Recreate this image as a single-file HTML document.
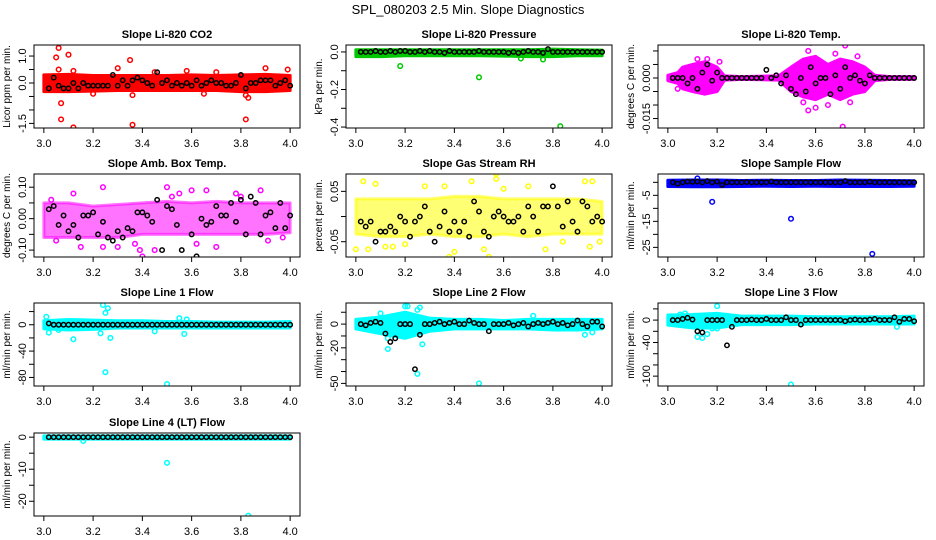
<!DOCTYPE html>
<html><head><meta charset="utf-8"><style>
html,body{margin:0;padding:0;background:#fff}
svg{display:block}
text{font-family:"Liberation Sans",Arial,sans-serif}
</style></head><body>
<svg id="chart" width="936" height="540" viewBox="0 0 936 540">
<text x="468" y="14" text-anchor="middle" font-size="13">SPL_080203  2.5 Min. Slope Diagnostics</text>
</svg>
<script>
// shared x grid for black (summary) points
const times = [3.02,3.04,3.06,3.08,3.10,3.12,3.14,3.16,3.18,3.20,3.22,3.24,3.26,3.28,3.30,3.32,3.34,3.36,3.38,3.40,3.42,3.44,3.46,3.48,3.50,3.52,3.54,3.56,3.58,3.60,3.62,3.64,3.66,3.68,3.70,3.72,3.74,3.76,3.78,3.80,3.82,3.84,3.86,3.88,3.90,3.92,3.94,3.96,3.98,4.00];
const bandX = [3.0,3.1,3.2,3.3,3.4,3.5,3.6,3.7,3.8,3.9,4.0];
const xTicks = [3.0,3.2,3.4,3.6,3.8,4.0];
const xTickLabels = ["3.0","3.2","3.4","3.6","3.8","4.0"];

const titles = ["Slope Li-820 CO2","Slope Li-820 Pressure","Slope Li-820 Temp.","Slope Amb. Box Temp.","Slope Gas Stream RH","Slope Sample Flow","Slope Line 1 Flow","Slope Line 2 Flow","Slope Line 3 Flow","Slope Line 4 (LT) Flow"];
const yTitles = ["Licor ppm per min.","kPa per min.","degrees C per min.","degrees C per min.","percent per min.","ml/min per min.","ml/min per min.","ml/min per min.","ml/min per min.","ml/min per min."];
const colors = ["#ff0000","#00c800","#ff00ff","#ff00ff","#ffff00","#0000ff","#00ffff","#00ffff","#00ffff","#00ffff"];
const yLims = [[-1.67,1.41],[-0.405,0.037],[-0.0185,0.0122],[-0.122,0.142],[-0.0804,0.0845],[-28.7,3.2],[-93,33],[-52.2,17.8],[-117.6,30.5],[-24.6,1.3]];
const yTickVals = [[-1.5,-1.0,-0.5,0.0,0.5,1.0],[-0.4,-0.3,-0.2,-0.1,0.0],[-0.015,-0.010,-0.005,0.0,0.005,0.010],[-0.10,-0.05,0.0,0.05,0.10],[-0.05,0.0,0.05],[-25,-20,-15,-10,-5,0],[-80,-60,-40,-20,0,20],[-50,-40,-30,-20,-10,0,10],[-100,-80,-60,-40,-20,0,20],[-20,-15,-10,-5,0]];
const yTickLabels = [["-1.5","","","0.0","","1.0"],["-0.4","","-0.2","","0.0"],["-0.015","","","0.000","",""],["-0.10","","0.00","","0.10"],["-0.05","","0.05"],["-25","","-15","","-5",""],["-80","","-40","","0",""],["-50","","","-20","","0",""],["-100","","","-40","","0",""],["-20","","-10","","0"]];

const bandHi = [
[0.3,0.32,0.28,0.28,0.28,0.28,0.3,0.28,0.3,0.32,0.28],
[0.012,0.012,0.012,0.012,0.012,0.012,0.012,0.012,0.015,0.012,0.01],
null,
[0.05,0.05,0.04,0.045,0.05,0.055,0.05,0.055,0.05,0.05,0.05],
[0.035,0.035,0.035,0.035,0.04,0.04,0.035,0.035,0.035,0.035,0.03],
[0.8,0.9,0.9,0.7,0.8,0.7,0.7,0.9,0.8,0.7,0.6],
[6,8,7,6,6,5,5,4,4,4,5],
[4,6,10,5,4,4,3,4,4,4,4],
[9,10,12,7,7,7,6,6,6,6,7],
[0.4,0.4,0.4,0.4,0.4,0.4,0.4,0.4,0.4,0.4,0.4]];
const bandLo = [
[-0.32,-0.32,-0.3,-0.28,-0.28,-0.28,-0.28,-0.28,-0.32,-0.32,-0.28],
[-0.025,-0.025,-0.02,-0.02,-0.02,-0.02,-0.022,-0.025,-0.025,-0.02,-0.02],
null,
[-0.06,-0.06,-0.06,-0.06,-0.05,-0.05,-0.05,-0.05,-0.05,-0.05,-0.045],
[-0.035,-0.04,-0.04,-0.035,-0.04,-0.04,-0.035,-0.04,-0.035,-0.035,-0.035],
[-1.6,-1.7,-1.7,-1.6,-1.5,-1.6,-1.5,-1.6,-1.6,-1.6,-1.5],
[-6,-8,-7,-5,-5,-5,-5,-5,-5,-5,-5],
[-4,-8,-12,-6,-4,-4,-4,-4,-5,-5,-4],
[-9,-14,-14,-8,-8,-8,-7,-7,-7,-7,-7],
[-0.6,-0.6,-0.6,-0.6,-0.6,-0.6,-0.6,-0.6,-0.6,-0.6,-0.6]];
// Li-820 temp band (own grid)
const tempBandX = [3.0,3.04,3.06,3.1,3.15,3.2,3.23,3.3,3.45,3.5,3.55,3.6,3.65,3.7,3.75,3.8,3.84,3.9,4.0];
const tempBandHi = [0.001,0.002,0.004,0.005,0.006,0.004,0.0008,0.0005,0.0008,0.004,0.007,0.008,0.005,0.007,0.006,0.004,0.001,0.0005,0.0005];
const tempBandLo = [-0.001,-0.002,-0.004,-0.005,-0.006,-0.005,-0.0008,-0.0005,-0.0008,-0.005,-0.007,-0.008,-0.006,-0.008,-0.006,-0.005,-0.001,-0.0005,-0.0005];

const outX = [
[3.06,3.05,3.10,3.07,3.07,3.12,3.35,3.36,3.30,3.82,3.82,3.83,3.90,3.36,3.12,3.99,3.06,3.58,3.70,3.2,3.45,3.65],
[3.18,3.50,3.83,3.76,3.67],
[3.57,3.71,3.65,3.74,3.55,3.58,3.72,3.57,3.16,3.12,3.77,3.04,3.21,3.6,3.68],
[3.48,3.50,3.24,3.52,3.40,3.39,3.37,3.24,3.05,3.15,3.62,3.78,3.60,3.66,3.97,3.91,3.03,3.80,3.12,3.30,3.70,3.88,3.45,3.55],
[3.57,3.57,3.03,3.08,3.47,3.93,3.96,3.40,3.54,3.38,3.52,3.00,3.12,3.77,3.95,3.05,3.84,3.99,3.36,3.60,3.2,3.28,3.7,3.15],
[3.18,3.50,3.83,3.12],
[3.01,3.25,3.26,3.24,3.12,3.23,3.27,3.25,3.50,3.55,3.58,3.45,3.57,3.02,3.06],
[3.20,3.21,3.25,3.26,3.10,3.13,3.13,3.27,3.25,3.50,3.72,3.93,3.96,3.19,3.12],
[3.20,3.12,3.14,3.16,3.18,3.20,3.50,3.93,3.07,3.05],
[3.50,3.83,3.16]];
const outY = [
[1.3,0.95,1.05,-0.75,-1.35,-1.65,0.85,-1.55,0.55,-1.35,-0.45,-0.55,0.55,-0.45,0.45,0.5,0.5,0.45,0.4,-0.4,0.4,-0.4],
[-0.075,-0.135,-0.395,-0.04,-0.035],
[-0.012,-0.018,-0.010,-0.009,-0.009,0.013,0.012,0.010,0.007,0.007,0.008,-0.004,0.006,-0.011,0.009],
[0.15,0.10,0.10,0.07,-0.12,-0.10,-0.08,-0.09,-0.07,-0.09,-0.08,0.08,0.09,0.09,-0.06,-0.07,0.06,0.07,0.08,-0.09,-0.09,0.09,-0.1,0.08],
[0.085,0.075,0.07,0.065,0.07,0.07,0.07,-0.07,-0.08,-0.08,-0.065,-0.065,-0.06,-0.065,-0.06,-0.065,-0.05,-0.05,0.06,0.055,-0.055,0.06,0.06,-0.06],
[-7.5,-14,-27.5,1.5],
[12,18,25,30,-22,-13,-20,-72,-90,10,8,-10,-14,-12,-8],
[15,15,12,14,9,-12,-21,-17,-42,-50,7,-9,-7,-4,-5],
[25,-30,-32,-25,-15,-15,-115,-12,12,10],
[-8,-24.5,-1.2]];

const blackY = [
[-0.2,0.2,-0.1,-0.2,-0.2,0,-0.2,0,-0.1,-0.1,-0.1,-0.1,-0.1,0.3,-0.1,0.1,-0.1,0.1,0.2,0.1,0,-0.1,0.4,0,0.1,-0.1,0,-0.1,0,-0.1,0.1,-0.1,0,0.1,0,0,-0.1,-0.1,0,0.3,-0.2,0,0,0.1,0.1,0.1,-0.1,0,0.1,-0.1],
[0,0,0,0.005,0,0,0.005,0,0.005,0.005,0,0,0.005,0,0.005,0,0,-0.005,0.005,0,0,0,0,0,0.005,0,0,0,0,0,-0.005,0,-0.005,0,0.005,0,0,-0.005,0.015,0,0,0,0,0,0,0,0,0,0,0],
[0,0,0,-0.002,0,-0.004,0.002,0.005,-0.001,0.002,0,0,0,0,0,0,0,0,0,0.003,0,0.001,-0.002,0.001,-0.004,-0.006,0,-0.005,0.004,-0.002,0,0,-0.006,0.001,-0.004,0.004,0,0.001,-0.001,-0.002,0.001,0,0,0,0,0,0,0,0,0],
[0.03,0.04,-0.02,0.01,-0.04,-0.02,-0.06,0.01,0.01,0.02,-0.05,-0.01,-0.06,-0.07,-0.04,-0.06,-0.03,-0.04,0.02,0.02,0.01,-0.01,0.06,-0.1,0.04,0.03,-0.02,-0.1,-0.13,-0.05,-0.12,0,-0.02,-0.01,0.04,0.01,0.01,0.05,-0.01,0.06,-0.05,0.07,0.05,-0.05,0.01,0.02,-0.03,0.05,-0.03,0.01],
[-0.01,-0.02,-0.01,-0.05,-0.03,-0.03,-0.02,-0.03,0,-0.01,-0.04,-0.01,0,0.02,-0.03,-0.05,-0.02,0.01,-0.03,-0.01,-0.03,-0.01,-0.04,0.03,0.01,-0.03,-0.04,0,0.01,0,-0.01,-0.01,0,-0.03,0.02,0,-0.03,0.02,0.02,0.06,0.02,-0.02,0.03,-0.01,-0.03,0.03,0.02,-0.01,0,-0.01],
[0,-0.5,0,0.3,0.2,0.3,0,0.5,0,0.3,-1,0,0,0,0,0.1,0,0,0,0,0.3,0,0,0,0,0,0,0,0,0,0,0,0,0,0,0.5,0,0,0,0,0.2,0,0,0,0,0,0,0,0,0],
[2,0,0,0,0,0,0,0,0,0,0,0,0,0,0,0,0,0,0,0,0,0,0,0,0,0,0,0,0,0,0,0,0,0,0,0,0,0,0,0,0,0,0,0,0,0,0,0,0,0],
[0,-1,1,2,1,-8,-15,-12,0,0,0,-38,-9,0,0,1,2,0,1,2,0,0,3,1,0,0,-6,0,0,0,1,-1,0,1,-2,0,1,0,1,2,0,1,-1,0,3,0,-2,2,2,-2],
[0,0,2,4,1,-20,-22,0,0,0,0,-45,-12,0,0,0,1,0,0,2,0,0,0,5,0,0,-8,0,0,0,0,0,0,0,0,-2,0,1,0,0,1,2,0,0,0,5,-3,2,2,-2],
[0,0,0,0,0,0,0,0,0,0,0,0,0,0,0,0,0,0,0,0,0,0,0,0,0,0,0,0,0,0,0,0,0,0,0,0,0,0,0,0,0,0,0,0,0,0,0,0,0,0]];

const NS = "http://www.w3.org/2000/svg";
const svg = document.getElementById("chart");
const colLeft = [34,346,658], rowTop = [45,174,303,433];
const boxW = 266, boxH = 83;
function mk(tag, attrs, parent){ const e = document.createElementNS(NS, tag); for (const k in attrs) e.setAttribute(k, attrs[k]); (parent||svg).appendChild(e); return e; }

titles.forEach((title, p) => {
  const L = colLeft[p % 3], T = rowTop[Math.floor(p / 3)];
  const g = mk("g", {});
  
  
  const xs = v => L + (v - 2.96) / 1.08 * boxW;
  const [y0, y1] = yLims[p];
  const ys = v => T + boxH - (v - y0) / (y1 - y0) * boxH;
  const clipId = "clip" + p;
  const cp = mk("clipPath", {id: clipId}, g);
  mk("rect", {x: L, y: T, width: boxW, height: boxH}, cp);
  const data = mk("g", {"clip-path": "url(#" + clipId + ")"}, g);
  
  
  const col = colors[p];
  const bx = p === 2 ? tempBandX : bandX;
  const hi = p === 2 ? tempBandHi : bandHi[p];
  const lo = p === 2 ? tempBandLo : bandLo[p];
  let pts = bx.map((x, i) => xs(x) + "," + ys(hi[i]));
  pts = pts.concat(bx.slice().reverse().map((x, i) => xs(x) + "," + ys(lo[lo.length - 1 - i])));
  const sparse = (p === 3 || p === 4);
  const band = mk("polygon", {points: pts.join(" "), fill: col, "fill-opacity": sparse ? 0.55 : 1, stroke: col, "stroke-opacity": sparse ? 0.55 : 1, "stroke-width": 3, "stroke-linejoin": "round"}, data);
  
  
  outX[p].forEach((x, i) => {
    const c = mk("circle", {cx: xs(x), cy: ys(outY[p][i]), r: 2.3, fill: "none", stroke: col, "stroke-width": 1.5}, data);
    
    
  });
  times.forEach((x, i) => {
    const c = mk("circle", {cx: xs(x), cy: ys(blackY[p][i]), r: 2.2, fill: "none", stroke: "#000", "stroke-width": 1.5}, data);
    
    
  });
  const box = mk("rect", {x: L, y: T, width: boxW, height: boxH, fill: "none", stroke: "#000", "stroke-width": 1}, g);
  
  
  xTicks.forEach((v, i) => {
    mk("line", {x1: xs(v), x2: xs(v), y1: T + boxH, y2: T + boxH + 5, stroke: "#000"}, g);
    const t = mk("text", {x: xs(v), y: T + boxH + 19, "text-anchor": "middle", "font-size": 11}, g);
    t.textContent = xTickLabels[i];
    
    
  });
  yTickVals[p].forEach((v, i) => {
    mk("line", {x1: L - 5, x2: L, y1: ys(v), y2: ys(v), stroke: "#000"}, g);
    if (yTickLabels[p][i]) {
      const t = mk("text", {x: L - 8, y: ys(v), "text-anchor": "middle", "font-size": 11, transform: "rotate(-90 " + (L - 8) + " " + ys(v) + ")"}, g);
      t.textContent = yTickLabels[p][i];
      
      
    }
  });
  const tt = mk("text", {x: L + boxW / 2, y: T - 7, "text-anchor": "middle", "font-size": 11, "font-weight": "bold"}, g);
  tt.textContent = title;
  
  
  const yx = L - 24, yy = T + boxH / 2;
  const yt = mk("text", {x: yx, y: yy, "text-anchor": "middle", "font-size": 10, transform: "rotate(-90 " + yx + " " + yy + ")"}, g);
  yt.textContent = yTitles[p];
  
  
});
</script>
</body></html>
